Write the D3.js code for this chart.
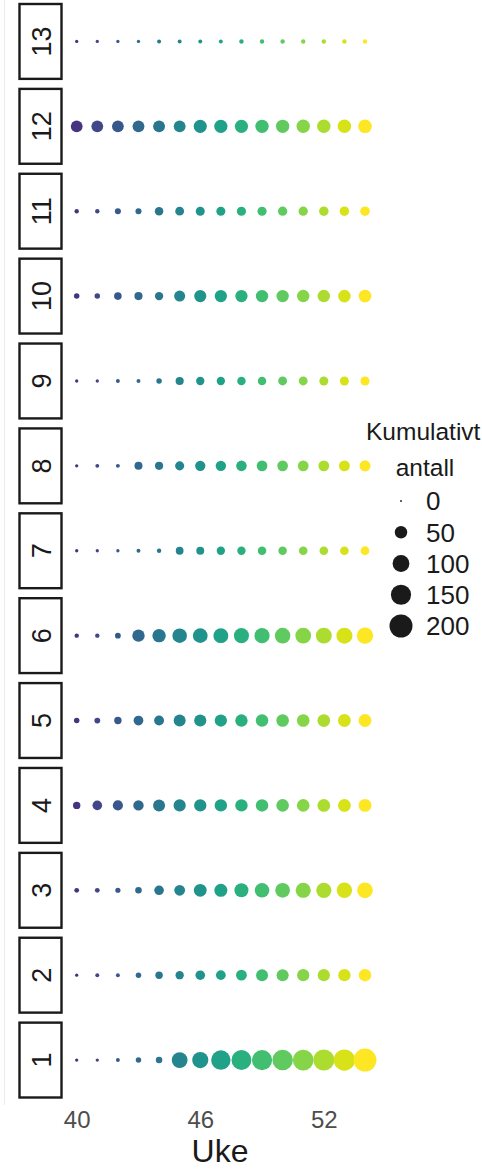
<!DOCTYPE html>
<html>
<head>
<meta charset="utf-8">
<script src="https://cdn.jsdelivr.net/npm/d3@7"></script>
<style>
  body { margin: 0; background: #fff; }
  svg { display: block; font-family: "Liberation Sans", Arial, sans-serif; }
</style>
</head>
<body>
<script>
// weeks on the x axis
var weeks = [40, 41, 42, 43, 44, 45, 46, 47, 48, 49, 50, 51, 52, 53, 54];

// facet labels, top to bottom
var panels = ["13", "12", "11", "10", "9", "8", "7", "6", "5", "4", "3", "2", "1"];

// cumulative count per week, one array per facet
var antall1  = [1, 1, 2, 6, 10, 88, 92, 138, 146, 150, 156, 160, 166, 170, 198];
var antall2  = [1, 2, 2, 6, 14, 19, 27, 28, 36, 46, 47, 48, 48, 49, 50];
var antall3  = [4, 4, 5, 10, 27, 36, 54, 56, 66, 72, 74, 79, 80, 82, 86];
var antall4  = [14, 27, 31, 33, 46, 48, 49, 50, 50, 51, 52, 52, 53, 54, 55];
var antall5  = [6, 7, 14, 28, 29, 46, 48, 49, 50, 51, 52, 52, 53, 54, 55];
var antall6  = [3, 3, 7, 50, 60, 72, 74, 76, 78, 80, 84, 86, 88, 90, 94];
var antall7  = [1, 1, 1, 2, 3, 16, 17, 19, 19, 20, 20, 20, 21, 21, 22];
var antall8  = [1, 2, 2, 17, 18, 24, 32, 33, 34, 35, 35, 36, 36, 37, 38];
var antall9  = [1, 1, 2, 2, 6, 18, 19, 19, 20, 20, 22, 22, 23, 23, 24];
var antall10 = [6, 6, 15, 18, 19, 38, 48, 49, 49, 50, 50, 51, 51, 52, 53];
var antall11 = [3, 3, 8, 8, 20, 22, 23, 23, 24, 24, 25, 25, 26, 26, 27];
var antall12 = [44, 44, 44, 45, 45, 45, 57, 58, 58, 59, 59, 60, 60, 61, 62];
var antall13 = [1, 1, 1, 1, 2, 2, 2, 2, 3, 3, 3, 3, 3, 3, 3];

// size legend breaks
var sizeBreaks = [0, 50, 100, 150, 200];
var xTicks = [40, 46, 52];

var series = {
  "1": antall1, "2": antall2, "3": antall3, "4": antall4, "5": antall5,
  "6": antall6, "7": antall7, "8": antall8, "9": antall9, "10": antall10,
  "11": antall11, "12": antall12, "13": antall13
};

var width = 482,
    height = 1169;

var svg = d3.select("body")
  .append("svg")
  .attr("width", width)
  .attr("height", height);

//scales
var x = d3.scaleLinear()
  .domain([40, 54])
  .range([76.7, 365]);

var y = d3.scaleBand()
  .domain(panels)
  .range([4, 1097.5])
  .paddingInner(0.118)
  .paddingOuter(0);

var r = d3.scaleSqrt()
  .domain([0, 200])
  .range([0.9, 11.5]);

var color = function(w){
  return d3.interpolateViridis(0.15 + 0.85 * (w - 40) / 14);
};

//faint left border
svg.append("line")
  .attr("x1", 4.5).attr("x2", 4.5)
  .attr("y1", 0).attr("y2", 1105)
  .attr("stroke", "#ececec")
  .attr("stroke-width", 1);

//facets
var facet = svg.selectAll(".facet")
  .data(panels)
  .enter()
  .append("g")
  .attr("class", "facet")
  .attr("transform", function(d){ return "translate(0," + y(d) + ")"; });

facet.append("rect")
  .attr("x", 19.5)
  .attr("y", 0)
  .attr("width", 42)
  .attr("height", y.bandwidth())
  .attr("fill", "#fff")
  .attr("stroke", "#1a1a1a")
  .attr("stroke-width", 2.4);

facet.append("text")
  .attr("transform", "translate(41," + (y.bandwidth() / 2) + ") rotate(-90)")
  .attr("text-anchor", "middle")
  .attr("dy", "0.36em")
  .attr("font-size", 27)
  .attr("fill", "#1a1a1a")
  .text(function(d){ return d; });

facet.selectAll("circle")
  .data(function(d){
    return weeks.map(function(w, i){ return {week: w, antall: series[d][i]}; });
  })
  .enter()
  .append("circle")
  .attr("cx", function(d){ return x(d.week); })
  .attr("cy", y.bandwidth() / 2)
  .attr("r", function(d){ return r(d.antall); })
  .attr("fill", function(d){ return color(d.week); });

//x axis
var xAxis = svg.append("g")
  .attr("transform", "translate(0,1103)")
  .call(d3.axisBottom(x).tickValues(xTicks).tickSize(0).tickPadding(8).tickFormat(d3.format("d")));

xAxis.select(".domain").remove();
xAxis.selectAll("text")
  .attr("font-size", 24)
  .attr("font-family", "Liberation Sans, Arial, sans-serif")
  .attr("fill", "#4d4d4d");

svg.append("text")
  .attr("x", 220)
  .attr("y", 1162)
  .attr("text-anchor", "middle")
  .attr("font-size", 32)
  .attr("fill", "#1a1a1a")
  .text("Uke");

//size legend
var legend = svg.append("g")
  .attr("class", "legend");

legend.append("text")
  .attr("x", 366)
  .attr("y", 440)
  .attr("font-size", 24.5)
  .attr("fill", "#1a1a1a")
  .text("Kumulativt");

legend.append("text")
  .attr("x", 425)
  .attr("y", 476)
  .attr("text-anchor", "middle")
  .attr("font-size", 24.5)
  .attr("fill", "#1a1a1a")
  .text("antall");

var ly = d3.scalePoint()
  .domain(sizeBreaks)
  .range([501, 626]);

var key = legend.selectAll(".key")
  .data(sizeBreaks)
  .enter()
  .append("g")
  .attr("class", "key")
  .attr("transform", function(d){ return "translate(0," + ly(d) + ")"; });

key.append("circle")
  .attr("cx", 401)
  .attr("cy", 0)
  .attr("r", function(d){ return r(d); })
  .attr("fill", "#1a1a1a");

key.append("text")
  .attr("x", 426)
  .attr("dy", "0.36em")
  .attr("font-size", 26)
  .attr("fill", "#1a1a1a")
  .text(function(d){ return d; });
</script>
</body>
</html>
